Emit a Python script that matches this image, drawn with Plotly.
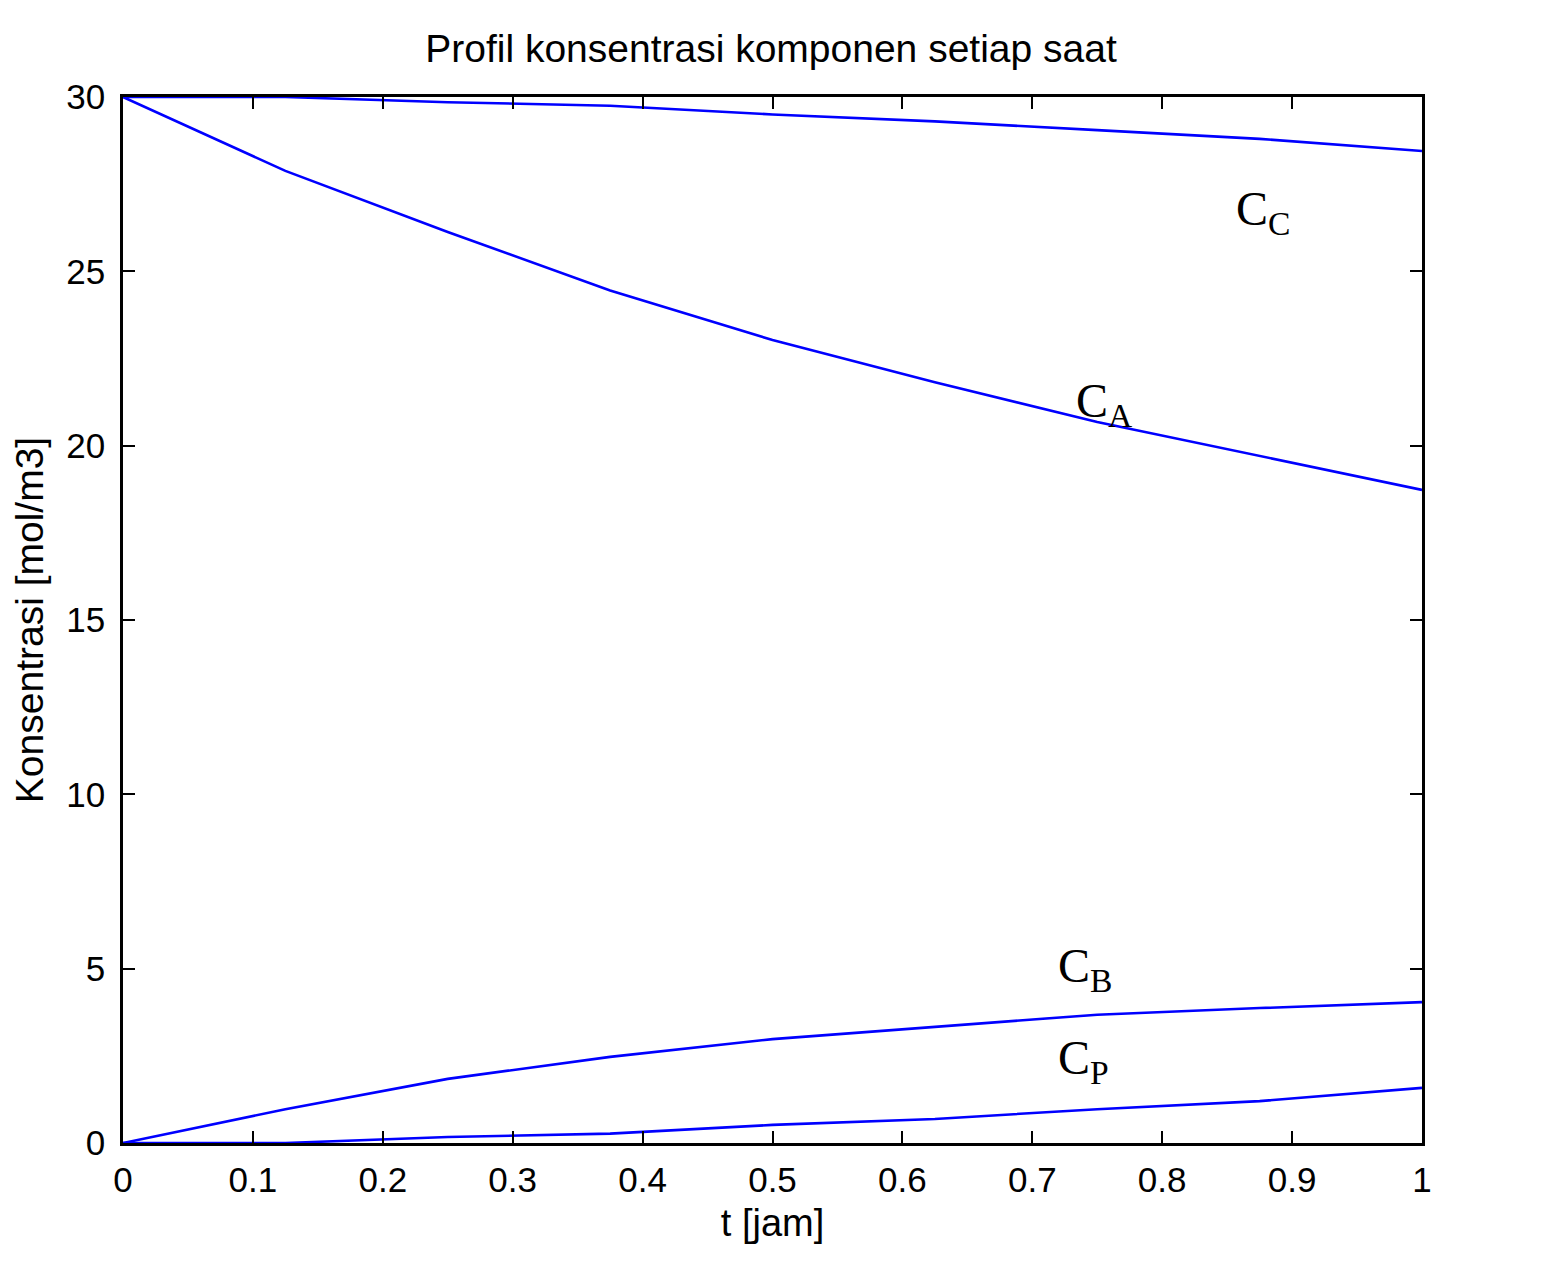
import plotly.graph_objects as go

t = [0, 0.125, 0.25, 0.375, 0.5, 0.625, 0.75, 0.875, 1.0]
CA = [30.0, 27.88, 26.13, 24.45, 23.03, 21.82, 20.68, 19.70, 18.73]
CB = [0.0, 0.97, 1.84, 2.47, 2.98, 3.33, 3.68, 3.87, 4.04]
CC = [30.0, 30.0, 29.85, 29.75, 29.50, 29.30, 29.05, 28.80, 28.45]
CP = [0.0, 0.0, 0.17, 0.27, 0.52, 0.69, 0.97, 1.20, 1.58]

labels = ["C<sub>C</sub>", "C<sub>A</sub>", "C<sub>B</sub>", "C<sub>P</sub>"]
label_x = [0.855, 0.732, 0.718, 0.718]
label_y = [26.7, 21.2, 5.0, 2.35]

fig = go.Figure()
for name, ys in [("CA", CA), ("CB", CB), ("CC", CC), ("CP", CP)]:
    fig.add_trace(go.Scatter(x=t, y=ys, mode="lines", name=name,
                             line=dict(color="#0000ff", width=2.6)))

for txt, lx, ly in zip(labels, label_x, label_y):
    fig.add_annotation(x=lx, y=ly, text=txt, showarrow=False, xanchor="left",
                       yanchor="middle",
                       font=dict(family="Liberation Serif", size=48, color="black"))

axis_common = dict(showline=True, linecolor="black", linewidth=2.5, mirror="ticks",
                   ticks="inside", ticklen=12, tickwidth=2, tickcolor="black",
                   showgrid=False, zeroline=False,
                   tickfont=dict(family="Liberation Sans", size=35, color="black"))

fig.update_layout(
    width=1564, height=1272,
    margin=dict(l=115, r=150, t=89, b=137),
    paper_bgcolor="white", plot_bgcolor="white",
    showlegend=False,
    title=dict(text="Profil konsentrasi komponen setiap saat", x=763 / 1564, xanchor="center",
               y=1 - 40 / 1272, yanchor="middle",
               font=dict(family="Liberation Sans", size=39, color="black")),
    xaxis=dict(range=[0, 1], tickvals=[0, 0.1, 0.2, 0.3, 0.4, 0.5, 0.6, 0.7, 0.8, 0.9, 1],
               ticktext=["0", "0.1", "0.2", "0.3", "0.4", "0.5", "0.6", "0.7", "0.8", "0.9", "1"],
               ticklabelstandoff=4,
               title=dict(text="t [jam]", standoff=12,
                          font=dict(family="Liberation Sans", size=38, color="black")),
               **axis_common),
    yaxis=dict(range=[0, 30], tickvals=[0, 5, 10, 15, 20, 25, 30],
               ticklabelstandoff=8,
               title=dict(text="Konsentrasi [mol/m3]", standoff=14,
                          font=dict(family="Liberation Sans", size=39, color="black")),
               **axis_common),
)

fig.write_html("out.html")
